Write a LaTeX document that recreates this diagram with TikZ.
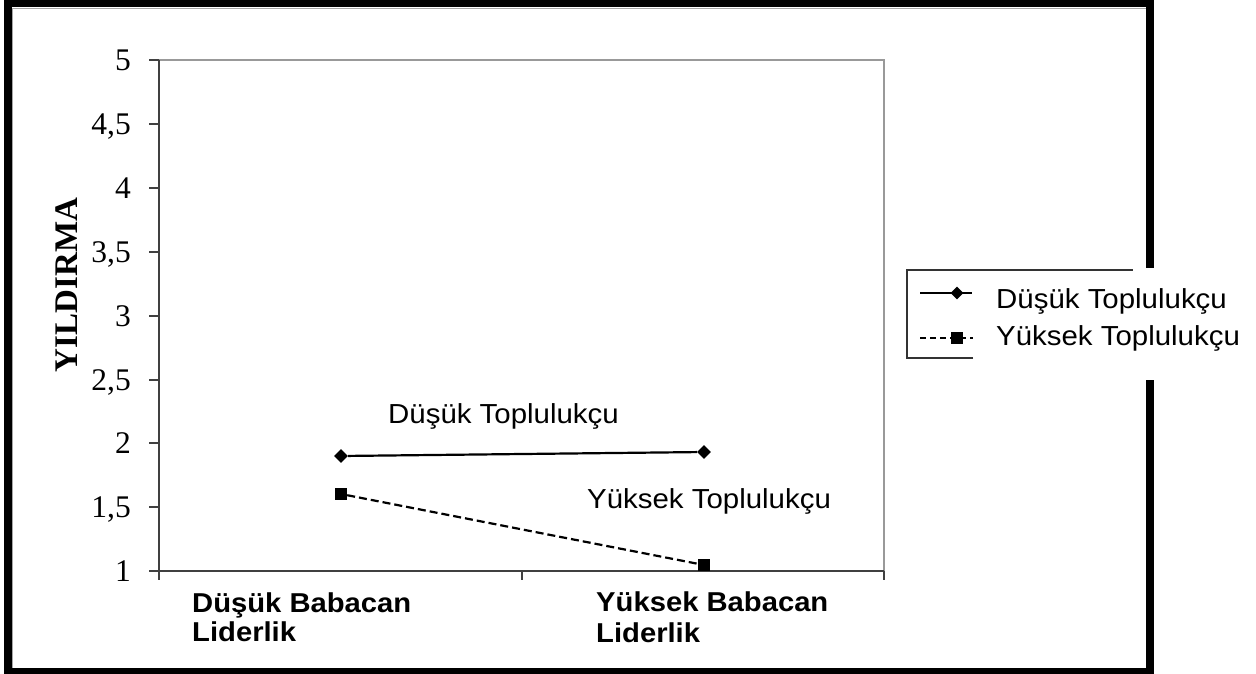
\documentclass[tikz,border=0pt]{standalone}
\usepackage{fontspec}
\usetikzlibrary{shapes.geometric}
\newfontfamily\lsans[FakeStretch=1.07]{Liberation Sans}
\newfontfamily\lserif{Liberation Serif}
\tikzset{
  frameline/.style={draw=gray!80, line width=1.2pt},
  axisline/.style={draw=black!75, line width=1.5pt},
  ticklbl/.style={anchor=base east, inner sep=0pt, font=\lserif\fontsize{31.5}{38}\selectfont},
  ylbl/.style={anchor=base, rotate=90, inner sep=0pt, font=\lserif\bfseries\fontsize{33}{40}\selectfont},
  sanslbl/.style={anchor=base west, inner sep=0pt, font=\lsans\fontsize{27.5}{32}\selectfont},
  boldlbl/.style={anchor=base west, inner sep=0pt, font=\lsans\bfseries\fontsize{27.3}{32}\selectfont},
  diam/.style={diamond, fill=black, inner sep=0pt, minimum size=14pt},
  sqr/.style={rectangle, fill=black, inner sep=0pt, minimum size=12pt},
  solidser/.style={draw=black, line width=2.2pt},
  dashser/.style={draw=black, line width=2.2pt, dash pattern=on 8pt off 4pt},
}
\begin{document}
\begin{tikzpicture}[x=1pt,y=-1pt]
\useasboundingbox (0,0) rectangle (1256,673);
% outer frame
\draw[gray!70, line width=1pt] (12.5,8) rectangle (1146,668.5);
\draw[black, line width=7.5pt] (8,3.5) rectangle (1150,671.5);
% plot area
\draw[frameline] (159,60) -- (884,60) -- (884,571);
\draw[axisline] (159,60) -- (159,571) -- (884,571);
\foreach \v/\y in {5/60, {4,5}/124, 4/188, {3,5}/252, 3/316, {2,5}/380, 2/443, {1,5}/507, 1/571}{
  \draw[axisline] (149,\y) -- (159,\y);
  \node[ticklbl] at (131,\y+10.5) {\v};
}
\foreach \x in {159,522,884}{
  \draw[axisline] (\x,571) -- (\x,580);
}
\node[ylbl] (ytitle) at (77,285) {YILDIRMA};
% data
\node[diam] (d1) at (341,456) {};
\node[diam] (d2) at (704,452) {};
\node[sqr] (s1) at (341,494) {};
\node[sqr] (s2) at (704,565) {};
\draw[solidser] (d1) -- (d2);
\draw[dashser] (s1) -- (s2);
\node[sanslbl] (lab1) at (388,423) {Düşük Toplulukçu};
\node[sanslbl] (lab2) at (587,508) {Yüksek Toplulukçu};
% x labels
\node[boldlbl] (xl1a) at (192,612) {Düşük Babacan};
\node[boldlbl] (xl1b) at (192,641) {Liderlik};
\node[boldlbl] (xl2a) at (596,611) {Yüksek Babacan};
\node[boldlbl] (xl2b) at (596,642) {Liderlik};
% legend
\fill[white] (905,268) rectangle (1162,380);
\draw[black!80, line width=1.2pt] (973,358) -- (907,358) -- (907,270) -- (1133,270);
\coordinate (la) at (920,293);
\coordinate (lb) at (972,293);
\coordinate (lc) at (920,338);
\coordinate (ld) at (973,338);
\draw[solidser] (la) -- (lb);
\draw[black, line width=2.2pt, dash pattern=on 6pt off 4pt] (lc) -- (ld);
\node[diam, minimum size=13pt] (ldm) at (957,293) {};
\node[sqr, minimum size=11.5pt] (lsq) at (957,338) {};
\node[sanslbl] (lt1) at (996,308) {Düşük Toplulukçu};
\node[sanslbl] (lt2) at (996,345) {Yüksek Toplulukçu};
\end{tikzpicture}
\end{document}
